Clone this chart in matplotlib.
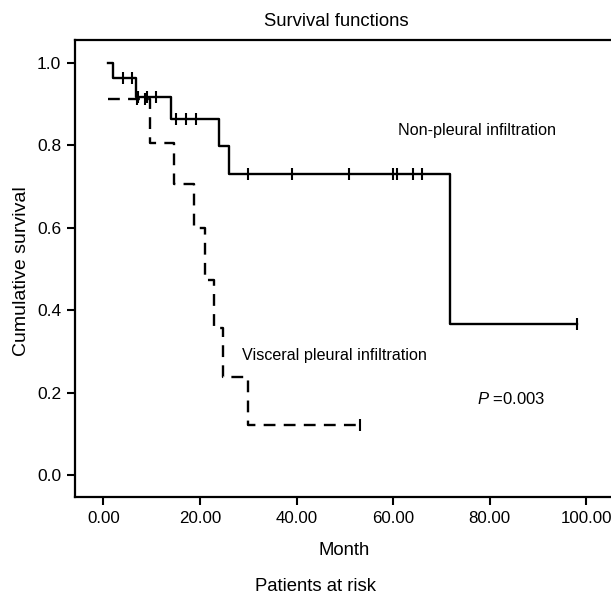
import matplotlib
matplotlib.use("Agg")
import matplotlib.pyplot as plt

plt.rcParams['font.family'] = ['Liberation Sans', 'DejaVu Sans']
plt.rcParams['mathtext.fontset'] = 'custom'
plt.rcParams['mathtext.it'] = 'Liberation Sans:italic'
plt.rcParams['mathtext.rm'] = 'Liberation Sans'

# Kaplan-Meier steps (month, survival)
non_t = [0.9, 1.9, 6.7, 14.0, 24.0, 26.0, 71.8, 98.1]
non_s = [1.0, 0.963, 0.916, 0.863, 0.797, 0.731, 0.366, 0.366]
non_cens_t = [4.1, 5.9, 7.1, 9.0, 10.9, 15.0, 17.1, 19.1, 30.0, 39.1, 50.9, 60.0, 60.7, 64.0, 66.0, 98.1]
non_cens_s = [0.963, 0.963, 0.916, 0.916, 0.916, 0.863, 0.863, 0.863, 0.731, 0.731, 0.731, 0.731, 0.731, 0.731, 0.731, 0.366]

vis_t = [0.9, 9.7, 14.7, 18.8, 21.1, 22.9, 24.8, 30.0, 53.1]
vis_s = [0.911, 0.806, 0.707, 0.598, 0.473, 0.356, 0.238, 0.121, 0.121]
vis_cens_t = [7.0, 8.5, 53.1]
vis_cens_s = [0.911, 0.911, 0.121]

xticks = [0, 20, 40, 60, 80, 100]
yticks = [0.0, 0.2, 0.4, 0.6, 0.8, 1.0]

fig = plt.figure(figsize=(6.11, 6.02), dpi=100)
ax = fig.add_axes([0.1227, 0.1744, 0.8773, 0.7592])

ax.step(non_t, non_s, where='post', color='black', lw=1.7)
ax.plot(non_cens_t, non_cens_s, ls='none', marker='|', ms=9, mew=1.5, color='black')
ax.step(vis_t, vis_s, where='post', color='black', lw=1.7, dashes=(5, 3.5))
ax.plot(vis_cens_t, vis_cens_s, ls='none', marker='|', ms=9, mew=1.5, color='black')

ax.set_xlim(-5.9, 105.1)
ax.set_ylim(-0.053, 1.055)
ax.set_xticks(xticks)
ax.set_xticklabels(['%.2f' % v for v in xticks], fontsize=12.2)
ax.set_yticks(yticks)
ax.set_yticklabels(['%.1f' % v for v in yticks], fontsize=12.5)
ax.tick_params(direction='out', length=6, width=1.5, pad=4)
ax.spines['right'].set_visible(False)
for s in ['left', 'bottom', 'top']:
    ax.spines[s].set_linewidth(1.6)

ax.text(61.0, 0.836, 'Non-pleural infiltration', fontsize=11.6, va='center')
ax.text(28.6, 0.291, 'Visceral pleural infiltration', fontsize=11.6, va='center')
ax.text(77.3, 0.184, r'$\it{P}$ =0.003', fontsize=12, va='center')

fig.text(0.551, 0.965, 'Survival functions', fontsize=13.3, ha='center', va='center')
fig.text(0.563, 0.086, 'Month', fontsize=13.3, ha='center', va='center')
fig.text(0.517, 0.025, 'Patients at risk', fontsize=13.3, ha='center', va='center')
fig.text(0.036, 0.549, 'Cumulative survival', fontsize=14, ha='center', va='center', rotation=90)

fig.savefig('out.png', dpi=100)
